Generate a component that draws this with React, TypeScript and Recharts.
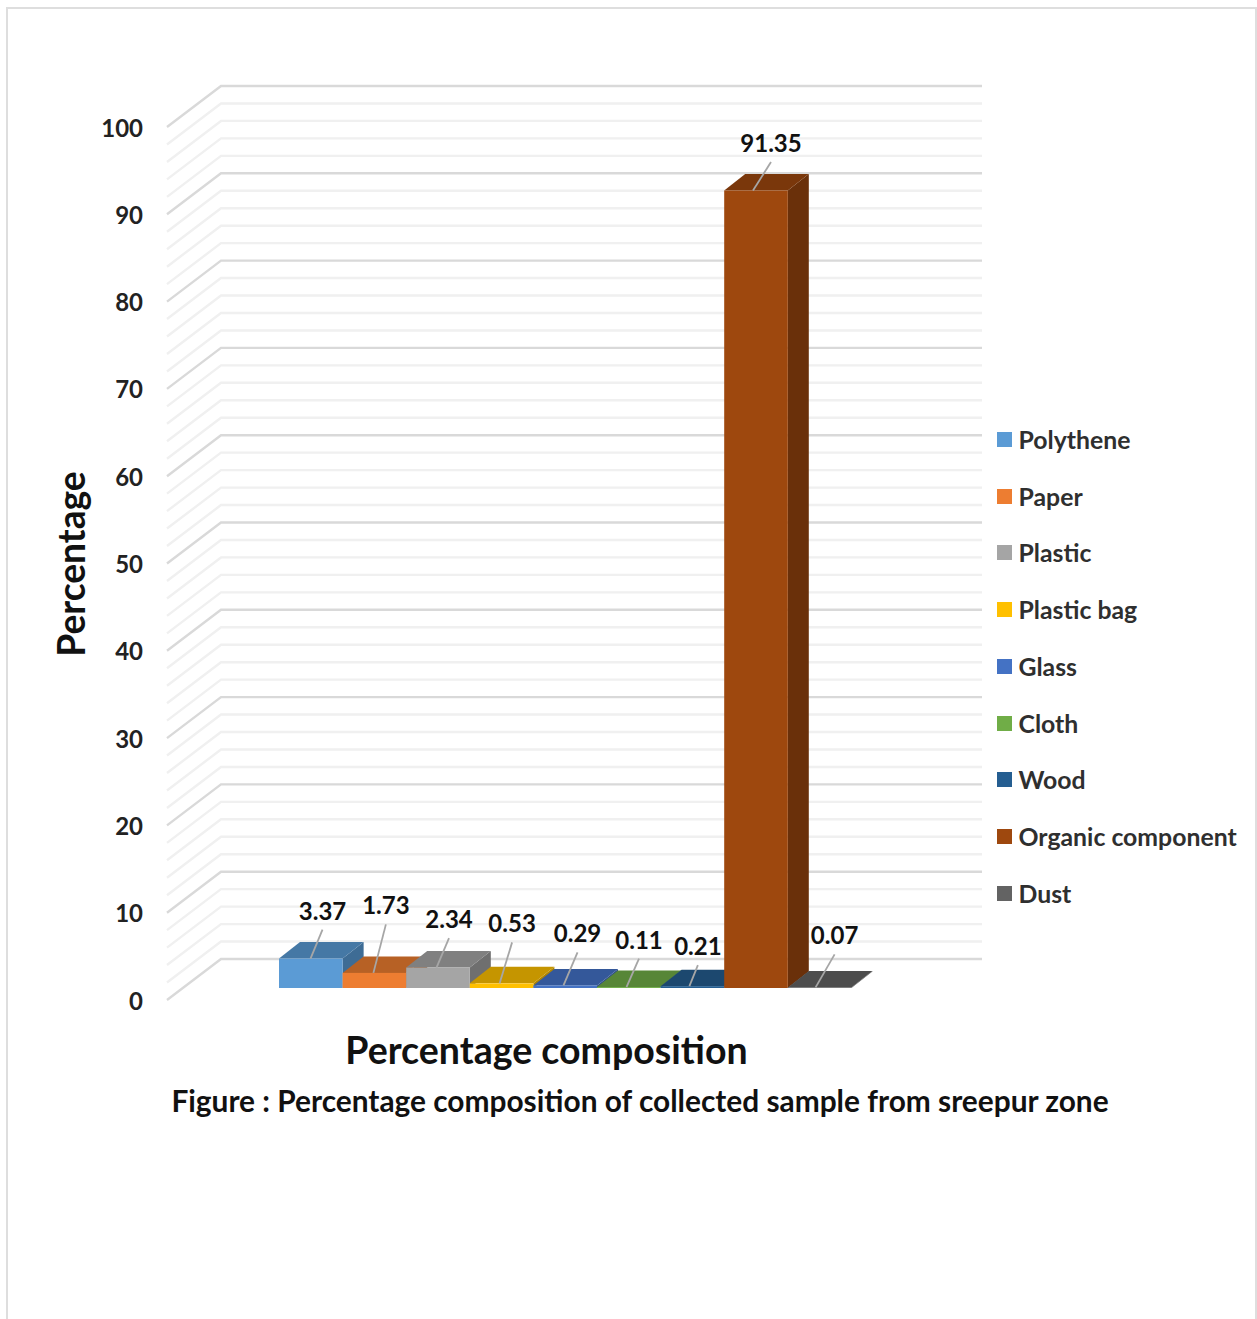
import React from 'react';
import { Bar, BarChart, CartesianGrid, Label, LabelList, Legend, XAxis, YAxis } from 'recharts';

const categories = ['Polythene', 'Paper', 'Plastic', 'Plastic bag', 'Glass', 'Cloth', 'Wood', 'Organic component', 'Dust'];
const percentages = [3.37, 1.73, 2.34, 0.53, 0.29, 0.11, 0.21, 91.35, 0.07];
const frontColors = ['#5B9BD5', '#ED7D31', '#A5A5A5', '#FFC000', '#4472C4', '#70AD47', '#255E91', '#9E480E', '#636363'];
const topColors = ['#4578A5', '#B76125', '#808080', '#C59500', '#34589A', '#578637', '#1C486F', '#7A370B', '#4D4D4D'];
const sideColors = ['#3E6C95', '#A55621', '#6F6F6F', '#B08500', '#2F4F88', '#4E7831', '#194163', '#6A300A', '#444444'];
const yTicks = [0, 10, 20, 30, 40, 50, 60, 70, 80, 90, 100];
const gridValues = [0, 2, 4, 6, 8, 10, 12, 14, 16, 18, 20, 22, 24, 26, 28, 30, 32, 34, 36, 38, 40, 42, 44, 46, 48, 50, 52, 54, 56, 58, 60, 62, 64, 66, 68, 70, 72, 74, 76, 78, 80, 82, 84, 86, 88, 90, 92, 94, 96, 98, 100];

// Leader line geometry per label: foot offset from the bar centre, then the tip relative to the foot.
const leaderFootDx = [-0.3, -1, -1.5, -2, -1.7, -2.3, -3, -3, -4];
const leaderTipDx = [12, 12.5, 12.5, 12.5, 14, 12.5, 8.5, 18, 19];
const leaderTipDy = [-29, -48.5, -29.5, -41, -33, -28.5, -21, -28.5, -33];

const FONT = 'Lato, sans-serif';
const WIDTH = 1257;
const HEIGHT = 1319;
const MARGIN = { top: 115, right: 311, bottom: 330, left: 183 };
const DEPTH_X = 21;
const DEPTH_Y = 16.5;
const WALL_LEFT = 221;
const WALL_RIGHT = 982;
const WALL_LIFT = 29;
const FLOOR_LEFT = 167;
const FLOOR_DROP = 41;

const row: Record<string, string | number> = { name: 'Percentage composition' };
categories.forEach((c, i) => {
  row[c] = percentages[i];
});
const chartData = [row];

// A bar drawn as a box: top and side faces behind the front rectangle.
function makeBox(i: number) {
  return function Box(props: any) {
    const { x, y, width, height } = props;
    const r = x + width;
    const b = y + height;
    return (
      <g>
        <polygon
          points={`${r},${y} ${r + DEPTH_X},${y - DEPTH_Y} ${r + DEPTH_X},${b - DEPTH_Y} ${r},${b}`}
          fill={sideColors[i]}
        />
        <polygon
          points={`${x},${y} ${r},${y} ${r + DEPTH_X},${y - DEPTH_Y} ${x + DEPTH_X},${y - DEPTH_Y}`}
          fill={topColors[i]}
        />
        <rect x={x} y={y} width={width} height={height} fill={frontColors[i]} />
      </g>
    );
  };
}

function makeValueLabel(i: number) {
  return function ValueLabel(props: any) {
    const { x, y, width, value } = props;
    const footX = x + width / 2 + leaderFootDx[i];
    const tipX = footX + leaderTipDx[i];
    const tipY = y + leaderTipDy[i];
    return (
      <g>
        <line x1={footX} y1={y} x2={tipX} y2={tipY} stroke="#a6a6a6" strokeWidth={1.8} />
        <text
          x={tipX}
          y={tipY - 19.5}
          textAnchor="middle"
          dominantBaseline="central"
          fontFamily={FONT}
          fontWeight={700}
          fontSize={24}
          fill="#111111"
        >
          {Number(value).toFixed(2)}
        </text>
      </g>
    );
  };
}

// Gridlines run along the back wall and fold forward along the left wall.
function GridFold(props: any) {
  const { y1, index } = props;
  const major = index % 5 === 0;
  const wallY = y1 - WALL_LIFT;
  return (
    <polyline
      key={`grid-${index}`}
      points={`${FLOOR_LEFT},${wallY + FLOOR_DROP} ${WALL_LEFT},${wallY} ${WALL_RIGHT},${wallY}`}
      fill="none"
      stroke={major ? '#d9d9d9' : '#f0f0f0'}
      strokeWidth={2.4}
    />
  );
}

function YTick(props: any) {
  const { y, payload } = props;
  return (
    <text
      x={143}
      y={y + 12}
      textAnchor="end"
      dominantBaseline="central"
      fontFamily={FONT}
      fontWeight={700}
      fontSize={24}
      fill="#222222"
    >
      {payload.value}
    </text>
  );
}

function LegendList(props: any) {
  const { payload } = props;
  return (
    <div style={{ fontFamily: FONT, fontWeight: 700, fontSize: 24.8, color: '#2f2f2f' }}>
      {(payload || []).map((item: any) => (
        <div key={item.value} style={{ height: 56.75, display: 'flex', alignItems: 'center', whiteSpace: 'nowrap' }}>
          <span style={{ width: 15, height: 15, background: item.color, marginRight: 6.5, flex: 'none' }} />
          {item.value}
        </div>
      ))}
    </div>
  );
}

export default function App() {
  return (
    <div style={{ position: 'absolute', left: 0, top: 0, width: WIDTH, height: HEIGHT, overflow: 'hidden', background: '#ffffff' }}>
      <div
        style={{
          position: 'absolute',
          left: 6,
          top: 7,
          width: 1247,
          height: 1330,
          border: '2px solid #dedede',
        }}
      />
      <BarChart
        width={WIDTH}
        height={HEIGHT}
        data={chartData}
        margin={MARGIN}
        barGap={0}
        barCategoryGap={94}
        style={{ position: 'absolute', left: 0, top: 0 }}
      >
        <CartesianGrid vertical={false} horizontalValues={gridValues} horizontal={GridFold} />
        <XAxis dataKey="name" tick={false} tickLine={false} axisLine={false} height={1}>
          <Label
            content={() => (
              <text x={546.5} y={1049.5} textAnchor="middle" dominantBaseline="central" fontFamily={FONT} fontWeight={700} fontSize={37.5} fill="#111111">
                Percentage composition
              </text>
            )}
          />
        </XAxis>
        <YAxis domain={[0, 100]} ticks={yTicks} interval={0} tick={YTick} tickLine={false} axisLine={false} width={1}>
          <Label
            content={() => (
              <text
                x={70}
                y={564}
                transform="rotate(-90 70 564)"
                textAnchor="middle"
                dominantBaseline="central"
                fontFamily={FONT}
                fontWeight={700}
                fontSize={37.2}
                fill="#111111"
              >
                Percentage
              </text>
            )}
          />
        </YAxis>
        <Legend
          layout="vertical"
          align="center"
          verticalAlign="middle"
          itemSorter={null}
          content={LegendList}
          wrapperStyle={{ left: 997, top: 411, width: 258 }}
        />
        {categories.map((c, i) => (
          <Bar key={c} dataKey={c} fill={frontColors[i]} barSize={63.6} shape={makeBox(i)} isAnimationActive={false}>
            <LabelList dataKey={c} content={makeValueLabel(i)} />
          </Bar>
        ))}
      </BarChart>
      <div
        style={{
          position: 'absolute',
          left: 0,
          top: 1083,
          width: 1280,
          textAlign: 'center',
          fontFamily: FONT,
          fontWeight: 700,
          fontSize: 29.85,
          lineHeight: '36px',
          color: '#111111',
          whiteSpace: 'nowrap',
        }}
      >
        Figure : Percentage composition of collected sample from sreepur zone
      </div>
    </div>
  );
}
